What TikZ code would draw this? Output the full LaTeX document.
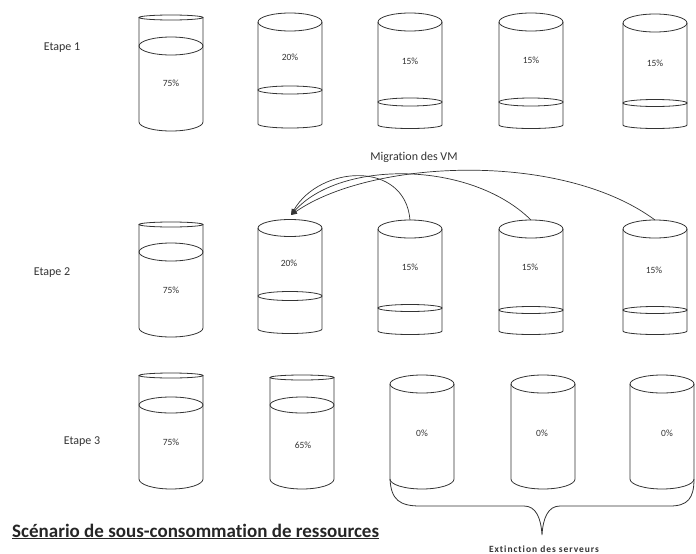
\documentclass[tikz,border=0pt]{standalone}
\usepackage{fontspec}
\setmainfont{Carlito}[Ligatures={NoCommon}]
\usepackage{tikz}
\usetikzlibrary{arrows.meta,positioning,calc}
\definecolor{inkgray}{HTML}{333333}

% cylinder: centre x, top y, top radius, bottom y, bottom radius
\newcommand{\tank}[5]{%
  \draw[tankline] (#1,#2) ellipse [x radius=32pt, y radius=#3pt];
  \draw[tankline] (#1-32,#2) -- (#1-32,#4)
    arc [start angle=180, end angle=360, x radius=32pt, y radius=#5pt] -- (#1+32,#2);
}
% level inside a cylinder: centre x, y, radius
\newcommand{\level}[3]{%
  \draw[tankline] (#1,#2) ellipse [x radius=32pt, y radius=#3pt];
}

\begin{document}
\begin{tikzpicture}[x=1pt, y=-1pt, >=Stealth,
  tankline/.style={line width=0.8pt, draw=inkgray},
  pct/.style={font=\fontsize{9.5}{11}\selectfont, text=inkgray, inner sep=1pt},
  stage/.style={font=\fontsize{12}{14}\selectfont, text=inkgray, inner sep=1pt},
  migr/.style={->, line width=0.7pt, draw=inkgray, -{Triangle[length=6pt, width=5pt]}}]
  \useasboundingbox (0,0) rectangle (696,554);

  % Etape 1
  \node[stage] (st1) at (62,48) {Etape 1};
  \tank{171}{17.5}{2.5}{122}{9} \level{171}{46}{9}
  \tank{290}{22}{9}{124}{4} \level{290}{90}{4}
  \tank{410}{22}{9}{125}{3.5} \level{410}{102}{4}
  \tank{531}{22}{9}{125}{3.5} \level{531}{102}{4}
  \tank{655}{23}{9}{125}{3.5} \level{655}{103}{3.5}
  \node[pct] (a1) at (171,83) {75\%};
  \node[pct] (b1) at (290,57) {20\%};
  \node[pct] (c1) at (410,61) {15\%};
  \node[pct] (d1) at (531,60) {15\%};
  \node[pct] (e1) at (655,63) {15\%};

  % Etape 2
  \node[stage] (st2) at (52,273) {Etape 2};
  \tank{171}{224.5}{2.5}{328}{9} \level{171}{252}{9}
  \tank{290}{228}{8.5}{329}{4.5} \level{290}{296}{4.5}
  \tank{410}{229}{9}{331}{3.5} \level{410}{308}{3.5}
  \tank{531}{229}{9}{331}{3.5} \level{531}{310}{3.5}
  \tank{655}{229}{9}{331}{3.5} \level{655}{310}{3.5}
  \node[pct] (a2) at (171,290) {75\%};
  \node[pct] (b2) at (289,263) {20\%};
  \node[pct] (c2) at (410,267) {15\%};
  \node[pct] (d2) at (530,267) {15\%};
  \node[pct] (e2) at (654,270) {15\%};

  % migration
  \node[stage] (migration) at (414,157) {Migration des VM};
  \coordinate (b2in) at (291,215);
  \coordinate (c2top) at (410,220);
  \coordinate (d2top) at (531,220);
  \coordinate (e2top) at (655,220);
  \draw[migr] (c2top) .. controls (405,160) and (320,165) .. (b2in);
  \draw[migr] (d2top) .. controls (470,160) and (340,160) .. (b2in);
  \draw[migr] (e2top) .. controls (560,150) and (370,160) .. (b2in);

  % Etape 3
  \node[stage] (st3) at (82,442) {Etape 3};
  \tank{171}{375.5}{2.5}{479}{10} \level{171}{405}{8}
  \tank{302}{377.5}{2.5}{479}{10} \level{302}{405}{8}
  \tank{422}{384}{9}{479}{10}
  \tank{543}{384}{9}{479}{10}
  \tank{662}{384}{9}{479}{10}
  \node[pct] (a3) at (171,442) {75\%};
  \node[pct] (b3) at (303,445) {65\%};
  \node[pct] (c3) at (422,433) {0\%};
  \node[pct] (d3) at (542,433) {0\%};
  \node[pct] (e3) at (667,433) {0\%};

  % brace under the stopped servers
  \draw[tankline] (390,479) .. controls (391,500) and (400,506) .. (420,506)
    -- (524,506) .. controls (536,506) and (541,518) .. (542,535)
    .. controls (543,518) and (548,506) .. (560,506)
    -- (670,506) .. controls (688,506) and (694,498) .. (694,479);
  \node[font=\bfseries\fontsize{9.5}{10}\selectfont\addfontfeature{LetterSpace=10}, text=inkgray, inner sep=0pt] (off) at (544,549) {Extinction des serveurs};

  \node[anchor=base west, inner sep=0pt, font=\bfseries\fontsize{19}{22}\selectfont, text=black!85] (title) at (12,537) {\underline{Scénario de sous-consommation de ressources}};
\end{tikzpicture}
\end{document}
